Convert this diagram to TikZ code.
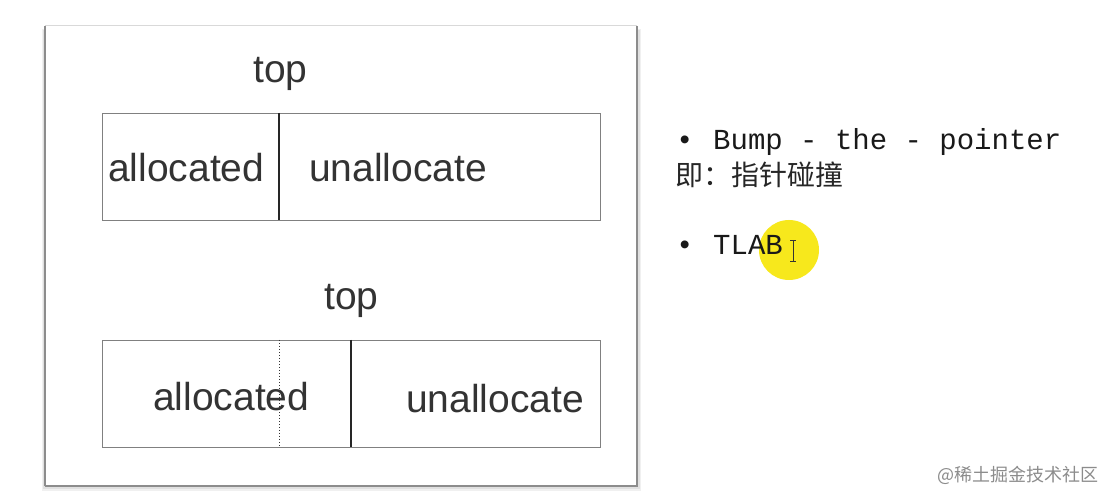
\documentclass[tikz,border=0pt]{standalone}
\usepackage{fontspec}
\setmainfont{Liberation Sans}
\newfontfamily\monof{Liberation Mono}
\newfontfamily\cjk{Noto Sans CJK SC}
\definecolor{hlyellow}{RGB}{247,232,28}
\begin{document}
\begin{tikzpicture}[x=1pt,y=-1pt,
  lbl/.style={inner sep=0pt,anchor=base west,font=\fontsize{39}{41}\selectfont,text=black!80},
  rtxt/.style={inner sep=0pt,anchor=base west,font=\monof\fontsize{29}{31}\selectfont,text=black!90},
  boxline/.style={draw=black!50,line width=1.3pt},
  divline/.style={draw=black!85,line width=1.2pt}]
\useasboundingbox[fill=white] (0,0) rectangle (1114,502);
% outer frame with soft shadow
\fill[black!6] (42,29) rectangle (641,491);
\fill[black!12] (43,30) rectangle (640,489);
\fill[white] (46,27) rectangle (636,486);
\draw[black!15,line width=1pt] (45,26) -- (637,26);
\draw[black!45,line width=1.6pt] (45,26) -- (45,486);
\draw[black!45,line width=2.2pt] (637,26) -- (637,487);
\draw[black!45,line width=2.4pt] (45,486) -- (637,486);
% upper box
\node[boxline,minimum width=498pt,minimum height=107pt,anchor=north west,inner sep=0pt] (b1) at (102,113) {};
\coordinate (d1t) at (279,113);
\coordinate (d1b) at (279,220);
\draw[divline] (d1t) -- (d1b);
\node[lbl] (top1) at (253,83) {top};
\node[lbl] (a1) at (108,182) {allocated};
\node[lbl] (u1) at (309,182) {unallocate};
% lower box
\node[boxline,minimum width=498pt,minimum height=107pt,anchor=north west,inner sep=0pt] (b2) at (102,340) {};
\coordinate (d2t) at (279,340);
\coordinate (d2b) at (279,447);
\draw[draw=black!80,line width=1pt,dotted] (d2t) -- (d2b);
\coordinate (d3t) at (351,340);
\coordinate (d3b) at (351,447);
\draw[divline] (d3t) -- (d3b);
\node[lbl] (top2) at (324,310) {top};
\node[lbl] (a2) at (153,410) {allocated};
\node[lbl] (u2) at (406,413) {unallocate};
% right text
\fill[hlyellow] (789,250) circle (30);
\node[rtxt] (bul1) at (676,150) {•};
\node[rtxt] (bump) at (713,150) {Bump - the - pointer};
\node[inner sep=0pt,anchor=base west,font=\cjk\fontsize{28}{30}\selectfont,text=black!85] (zh) at (675,186) {即：指针碰撞};
\node[rtxt] (bul2) at (676,255) {•};
\node[rtxt] (tlab) at (713,255) {TLAB};
% cursor
\draw[black!80,line width=1pt] (790,241) -- (796,241) (793,241) -- (793,262) (790,262) -- (796,262);
% watermark
\node[inner sep=0pt,anchor=base west,font=\cjk\fontsize{18}{20}\selectfont,text=black!45] (wm) at (937,482) {@稀土掘金技术社区};
\end{tikzpicture}
\end{document}
